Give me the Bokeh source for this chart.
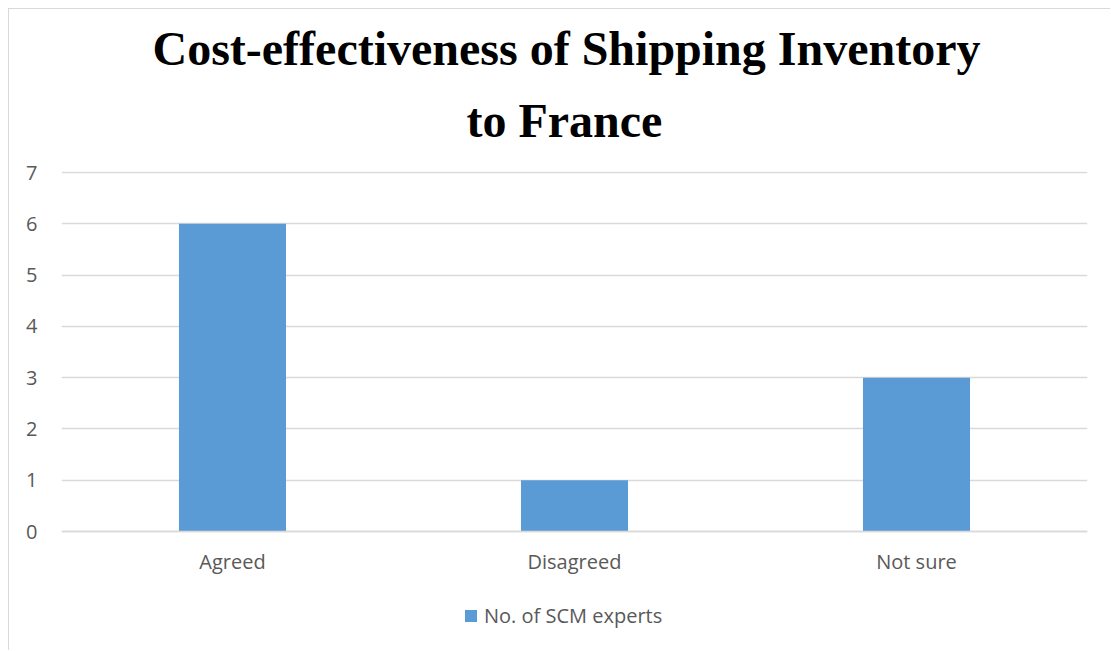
from bokeh.plotting import figure
from bokeh.models import Range1d, FactorRange, Legend, LegendItem, FixedTicker, ColumnDataSource, Title
from bokeh.embed import file_html
from bokeh.resources import INLINE

categories = ["Agreed", "Disagreed", "Not sure"]
values = [6, 1, 3]
series_name = "No. of SCM experts"
title_line1 = "Cost-effectiveness of Shipping Inventory"
title_line2 = "to France"
y_ticks = [0, 1, 2, 3, 4, 5, 6, 7]

W, H = 1102, 642
p = figure(width=W, height=H, x_range=FactorRange(*categories, range_padding=0),
           y_range=Range1d(-2.34, 7.02), output_backend="svg", toolbar_location=None,
           min_border_left=52, min_border_right=24, min_border_top=162, min_border_bottom=0)
p.styles = {"margin-left": "8px", "margin-top": "8px",
            "border-left": "1px solid #d9d9d9", "border-top": "1px solid #d9d9d9"}
p.outline_line_color = None
p.background_fill_color = "white"
p.title.text = ""

src = ColumnDataSource(dict(cat=categories, val=values))
r = p.vbar(x="cat", top="val", width=0.313, source=src, fill_color="#5b9bd5", line_color=None)

for txt, off, so in [(title_line2, 405, 50), (title_line1, 91, -16)]:
    p.add_layout(Title(text=txt, align="left", offset=off, standoff=so, text_font="Liberation Serif",
                       text_font_style="bold", text_font_size="48px", text_color="black"), "above")

p.xgrid.grid_line_color = None
p.ygrid.grid_line_color = "#d9d9d9"
p.ygrid.grid_line_width = 1.3
p.yaxis.ticker = FixedTicker(ticks=y_ticks)
p.yaxis.axis_line_color = None
p.yaxis.major_tick_line_color = None
p.yaxis.minor_tick_line_color = None
p.yaxis.major_tick_out = 0
p.yaxis.major_label_text_font = "Open Sans"
p.yaxis.major_label_text_font_size = "20px"
p.yaxis.major_label_text_color = "#595959"
p.yaxis.major_label_standoff = 24

p.xaxis.fixed_location = 0
p.xaxis.axis_line_color = "#d9d9d9"
p.xaxis.axis_line_width = 1.3
p.xaxis.major_tick_line_color = None
p.xaxis.minor_tick_line_color = None
p.xaxis.major_tick_out = 0
p.xaxis.major_label_text_font = "Open Sans"
p.xaxis.major_label_text_font_size = "20px"
p.xaxis.major_label_text_color = "#595959"
p.xaxis.major_label_standoff = 16

legend = Legend(items=[LegendItem(label=series_name, renderers=[r])], orientation="horizontal",
                location=(402, 22), label_text_font="Open Sans", label_text_font_size="20px",
                label_text_color="#595959", glyph_width=15, glyph_height=15, border_line_color=None,
                background_fill_alpha=0, margin=0, padding=0, label_standoff=6)
p.add_layout(legend, "center")

open("out.html", "w").write(file_html(p, INLINE))
